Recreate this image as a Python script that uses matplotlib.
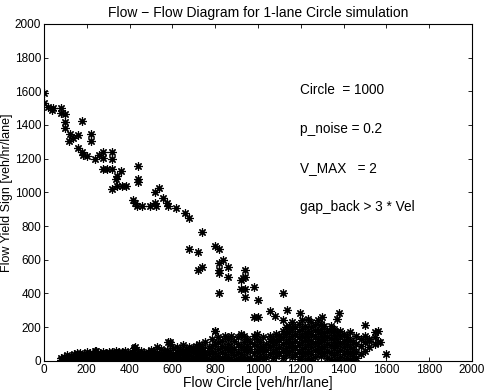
import numpy as np
import matplotlib
matplotlib.use('Agg')
import matplotlib.pyplot as plt

plt.rcParams['font.family'] = ['Liberation Sans', 'DejaVu Sans']

#### decreasing branch (yield sign flow vs circle flow) ####
upper_x = [0, 0, 20, 36, 44, 78, 78, 98, 98, 98, 121, 118, 137, 160, 179, 218, 218,
           160, 176, 184, 202, 238, 257, 277, 277, 316, 316, 277, 296, 316, 358, 343,
           336, 316, 343, 363, 383, 438, 438, 438, 519, 539, 557, 573, 581, 417, 425,
           433, 459, 495, 519, 522, 617, 660, 680,
           740, 679, 718, 799, 819, 718, 740, 819, 838, 819, 819, 861, 861, 939, 939,
           919, 928, 819, 919, 939, 939, 981, 1001, 1118, 981, 1001, 1056, 1079, 1137,
           1199, 1298, 1380, 1118]
upper_y = [1589, 1529, 1509, 1490, 1500, 1503, 1470, 1464, 1420, 1381, 1347, 1307, 1321,
           1341, 1424, 1347, 1306, 1262, 1242, 1223, 1218, 1199, 1223, 1242, 1203, 1242,
           1199, 1139, 1139, 1139, 1124, 1098, 1080, 1021, 1040, 1040, 1040, 1159, 1080,
           1064, 1001, 1025, 966, 939, 922, 955, 939, 922, 922, 922, 936, 922, 906, 880, 850,
           764, 663, 645, 682, 663, 540, 560, 580, 599, 540, 520, 560, 500, 540, 500,
           481, 491, 402, 425, 425, 382, 441, 362, 402, 263, 263, 299, 267, 303,
           287, 263, 283, 243]

#### low branch: circle flow -> list of yield flows ####
band = {
    80: [5, 15], 95: [0, 10, 25], 110: [5, 20, 35], 125: [0, 15, 30],
    140: [10, 25, 40], 155: [0, 20, 35, 45], 170: [5, 15, 30, 45],
    185: [0, 10, 25, 40], 200: [5, 20, 35, 50], 215: [0, 15, 30, 45],
    230: [5, 25, 40], 245: [0, 15, 35, 60], 260: [10, 25, 45],
    275: [0, 20, 35, 50], 290: [5, 15, 30, 45], 305: [0, 25, 40, 55],
    320: [10, 20, 35, 50], 335: [0, 15, 30, 45, 60], 350: [5, 25, 40, 55],
    365: [0, 15, 30, 50], 380: [10, 20, 35, 60], 395: [0, 25, 45],
    410: [5, 15, 35, 55], 425: [0, 20, 40, 80], 440: [10, 30, 50],
    455: [0, 15, 35, 60], 470: [5, 25, 45], 485: [0, 20, 40, 55],
    500: [10, 30, 50, 65], 515: [0, 15, 35, 60], 530: [5, 25, 45, 80],
    545: [0, 20, 40, 70], 560: [10, 30, 55], 575: [0, 15, 45, 65],
    590: [5, 25, 50, 100, 110], 605: [0, 20, 40, 75], 620: [10, 35, 55, 85],
    635: [0, 15, 45, 65], 650: [5, 25, 55, 95], 665: [0, 20, 40, 70],
    680: [10, 35, 60, 80], 695: [0, 20, 50, 75], 710: [5, 30, 55, 90],
    725: [0, 15, 45, 70, 100], 740: [10, 35, 60, 85], 755: [0, 25, 50, 110],
    770: [5, 40, 75], 785: [0, 20, 60, 90, 130], 800: [10, 45, 100, 180],
    815: [0, 30, 70, 110, 140], 830: [15, 55, 90, 120], 845: [5, 40, 75, 150],
    860: [0, 25, 65, 100, 130], 875: [10, 50, 85, 150], 890: [0, 35, 70, 120],
    905: [15, 55, 100, 140], 920: [5, 40, 80, 160], 935: [0, 25, 65, 110, 145],
    950: [10, 50, 90, 130], 965: [20, 70, 115], 980: [5, 45, 100, 150],
    995: [15, 60, 90, 130, 160], 1010: [30, 70, 110], 1025: [10, 50, 85, 140],
    1040: [25, 65, 100], 1055: [40, 80, 120, 150], 1070: [15, 55, 95, 130],
    1085: [30, 70, 110, 160], 1100: [45, 85, 125, 150],
    1115: [20, 60, 100, 140, 180], 1130: [35, 75, 115, 160, 200],
    1145: [50, 90, 130, 170, 210], 1160: [25, 65, 105, 150, 190, 230],
    1175: [40, 80, 120, 160, 200], 1190: [10, 55, 95, 140, 180, 220],
    1205: [30, 70, 110, 150, 190, 240], 1220: [0, 45, 85, 125, 165, 205],
    1235: [20, 60, 100, 140, 180, 250], 1250: [5, 40, 80, 120, 160, 200, 230],
    1265: [25, 65, 105, 145, 185, 215], 1280: [50, 90, 130, 170, 240],
    1295: [30, 70, 110, 150, 190, 220], 1310: [45, 85, 125, 165, 205],
    1325: [20, 60, 100, 140, 180], 1340: [10, 55, 95, 135, 175, 210],
    1355: [35, 75, 115, 155, 190], 1370: [5, 50, 90, 130, 170, 250],
    1385: [25, 65, 105, 145, 180], 1400: [0, 40, 80, 120, 160],
    1415: [20, 60, 100, 140], 1430: [5, 45, 85, 125, 170], 1445: [0, 30, 70, 110],
    1460: [15, 55, 100, 150], 1480: [40, 90, 130], 1500: [60, 110, 150, 214],
    1520: [80, 120, 130], 1545: [100, 140, 170], 1560: [110, 180], 1570: [115],
    1600: [40],
}
extra_x = [238, 422, 581, 799]
extra_y = [61, 75, 115, 180]

low_x = [x for x, ys in band.items() for y in ys] + extra_x
low_y = [y for x, ys in band.items() for y in ys] + extra_y

params = ['Circle  = 1000', 'p_noise = 0.2', 'V_MAX   = 2', 'gap_back > 3 * Vel']
param_y = [1608, 1377, 1145, 914]

fig = plt.figure(figsize=(4.88, 3.91), dpi=100)
ax = fig.add_axes([0.090, 0.077, 0.877, 0.862])

ast = (8, 2, 0)
ax.plot(upper_x, upper_y, linestyle='none', marker=ast, ms=6, mew=0.85, color='k')
ax.plot(low_x, low_y, linestyle='none', marker=ast, ms=6, mew=0.85, color='k')

for txt, yy in zip(params, param_y):
    ax.text(1196, yy, txt, fontsize=9.8, va='center', ha='left')

ax.set_xlim(0, 2000)
ax.set_ylim(0, 2000)
ax.set_xticks(np.arange(0, 2001, 200))
ax.set_yticks(np.arange(0, 2001, 200))
ax.tick_params(direction='in', top=True, right=True, labelsize=8.5, length=3, width=0.6, pad=2)
for s in ax.spines.values():
    s.set_linewidth(0.8)

ax.set_title('Flow \u2212 Flow Diagram for 1-lane Circle simulation', fontsize=10, pad=5)
ax.set_xlabel('Flow Circle [veh/hr/lane]', fontsize=10, labelpad=0)
ax.set_ylabel('Flow Yield Sign [veh/hr/lane]', fontsize=9)
ax.yaxis.set_label_coords(-0.072, 0.5)

fig.savefig('out.png', dpi=100)
